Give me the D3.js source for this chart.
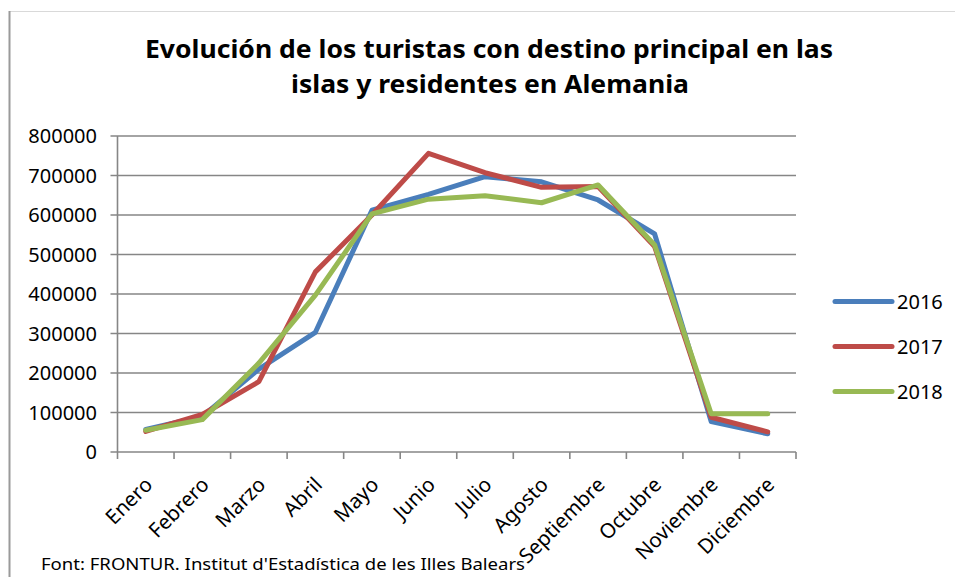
<!DOCTYPE html>
<html>
<head>
<meta charset="utf-8">
<script src="https://cdn.jsdelivr.net/npm/d3@7"></script>
<style>
  html, body { margin: 0; padding: 0; background: #fff; }
  svg { display: block; font-family: "Noto Sans", "Open Sans", sans-serif; }
</style>
</head>
<body>
<svg id="chart" width="955" height="577"></svg>
<script>
// months on the x axis
const months = ["Enero", "Febrero", "Marzo", "Abril", "Mayo", "Junio", "Julio",
    "Agosto", "Septiembre", "Octubre", "Noviembre", "Diciembre"];

// tourists per month
const values2016 = [57000, 90000, 210000, 303000, 612000, 652000, 697000, 684000, 638000, 552000, 77000, 46000];
const values2017 = [52000, 95000, 178000, 456000, 600000, 756000, 707000, 670000, 672000, 520000, 88000, 51000];
const values2018 = [55000, 82000, 225000, 397000, 603000, 640000, 649000, 631000, 676000, 524000, 97000, 97000];

const seriesNames = ["2016", "2017", "2018"];
const yTicks = [0, 100000, 200000, 300000, 400000, 500000, 600000, 700000, 800000];

const colors = ["#4a7ebb", "#be4b48", "#98b954"];
const series = [values2016, values2017, values2018];

const svg = d3.select("#chart");

// frame lines of the original picture
svg.append("line").attr("x1", 10).attr("x2", 955).attr("y1", 11.5).attr("y2", 11.5)
    .attr("stroke", "#d9d9d9").attr("stroke-width", 1);
svg.append("line").attr("x1", 9.5).attr("x2", 9.5).attr("y1", 11).attr("y2", 577)
    .attr("stroke", "#9a9a9a").attr("stroke-width", 2);

// plot area
const plot = { left: 117.5, right: 796, top: 136, bottom: 452 };

const x = d3.scaleBand()
    .domain(months)
    .range([plot.left, plot.right]);

const y = d3.scaleLinear()
    .domain([0, 800000])
    .range([plot.bottom, plot.top]);

const gridColor = "#868686";

// horizontal gridlines
svg.append("g")
    .selectAll("line")
    .data(yTicks)
    .join("line")
    .attr("x1", plot.left - 7)
    .attr("x2", plot.right)
    .attr("y1", d => y(d))
    .attr("y2", d => y(d))
    .attr("stroke", gridColor)
    .attr("stroke-width", 1.6);

// y axis line
svg.append("line")
    .attr("x1", plot.left).attr("x2", plot.left)
    .attr("y1", plot.top).attr("y2", plot.bottom)
    .attr("stroke", gridColor).attr("stroke-width", 1.6);

// y labels
svg.append("g")
    .selectAll("text")
    .data(yTicks)
    .join("text")
    .attr("x", 97)
    .attr("y", d => y(d) + 7)
    .attr("text-anchor", "end")
    .style("font-size", "20px")
    .style("fill", "#000")
    .text(d => d);

// x axis ticks at band boundaries
const boundaries = months.map(m => x(m)).concat([plot.right]);
svg.append("g")
    .selectAll("line")
    .data(boundaries)
    .join("line")
    .attr("x1", d => d).attr("x2", d => d)
    .attr("y1", plot.bottom).attr("y2", plot.bottom + 7)
    .attr("stroke", gridColor).attr("stroke-width", 1.6);

// rotated month labels
svg.append("g")
    .selectAll("text")
    .data(months)
    .join("text")
    .attr("transform", d => `translate(${x(d) + x.bandwidth() / 2 + 8}, 486) rotate(-45)`)
    .attr("text-anchor", "end")
    .style("font-size", "20.5px")
    .style("fill", "#000")
    .text(d => d);

// series lines
const line = d3.line()
    .x((d, i) => x(months[i]) + x.bandwidth() / 2)
    .y(d => y(d));

series.forEach((vals, i) => {
    svg.append("path")
        .datum(vals)
        .attr("d", line)
        .attr("fill", "none")
        .attr("stroke", colors[i])
        .attr("stroke-width", 5)
        .attr("stroke-linejoin", "round")
        .attr("stroke-linecap", "round");
});

// legend
const legend = svg.append("g")
    .selectAll("g")
    .data(seriesNames)
    .join("g")
    .attr("transform", (d, i) => `translate(835, ${301.5 + i * 45})`);

legend.append("line")
    .attr("x1", 0).attr("x2", 57)
    .attr("stroke", (d, i) => colors[i])
    .attr("stroke-width", 5)
    .attr("stroke-linecap", "round");

legend.append("text")
    .attr("x", 62)
    .attr("y", 7)
    .style("font-size", "20px")
    .style("fill", "#000")
    .text(d => d);

// title
const title = svg.append("g")
    .style("font-size", "25px")
    .style("font-weight", "bold")
    .style("fill", "#000");

title.append("text")
    .attr("x", 145).attr("y", 58)
    .attr("textLength", 688).attr("lengthAdjust", "spacingAndGlyphs")
    .text("Evolución de los turistas con destino principal en las");

title.append("text")
    .attr("x", 291).attr("y", 93)
    .attr("textLength", 398).attr("lengthAdjust", "spacingAndGlyphs")
    .text("islas y residentes en Alemania");

// source note
svg.append("text")
    .attr("x", 41).attr("y", 570)
    .attr("textLength", 484).attr("lengthAdjust", "spacingAndGlyphs")
    .style("font-size", "16px")
    .style("fill", "#000")
    .text("Font: FRONTUR. Institut d'Estadística de les Illes Balears");
</script>
</body>
</html>
